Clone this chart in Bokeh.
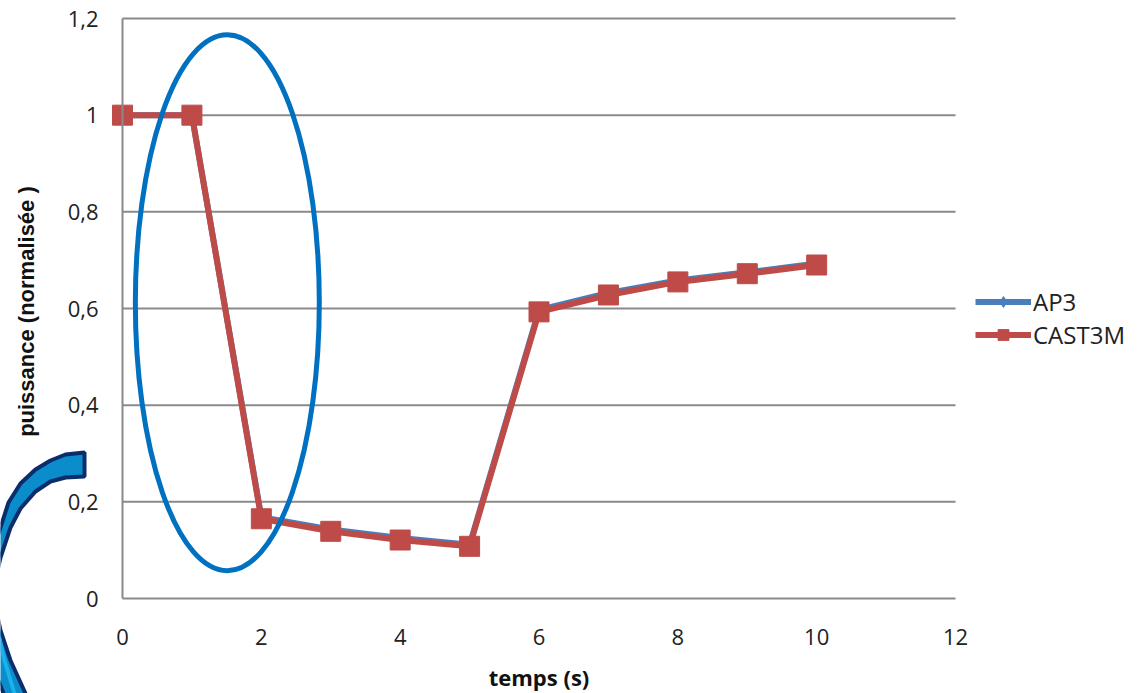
import numpy as np
from bokeh.plotting import figure
from bokeh.models import (FixedTicker, CustomJSTickFormatter, Legend, LegendItem, Range1d)
from bokeh.embed import file_html
from bokeh.resources import INLINE

# ---- data ----
temps = [0, 1, 2, 3, 4, 5, 6, 7, 8, 9, 10]
ap3 = [1.0, 1.0, 0.168, 0.143, 0.125, 0.111, 0.597, 0.632, 0.658, 0.675, 0.693]
cast3m = [1.0, 1.0, 0.165, 0.139, 0.121, 0.108, 0.593, 0.628, 0.655, 0.672, 0.690]
y_ticks = [0, 0.2, 0.4, 0.6, 0.8, 1.0, 1.2]
x_ticks = [0, 2, 4, 6, 8, 10, 12]
series_names = ["AP3", "CAST3M"]

# ---- layout geometry (canvas pixels) ----
W, H = 1140, 693
X0_PX, X_PER = 122.0, 69.42      # pixel of x=0, pixels per unit
Y0_PX, Y_PER = 598.0, 483.33     # pixel of y=0, pixels per unit

def dx(px):
    return (np.asarray(px, float) - X0_PX) / X_PER

def dy(py):
    return (Y0_PX - np.asarray(py, float)) / Y_PER

FONT = "Open Sans"
GRID = "#8a8a8a"

p = figure(width=W, height=H, output_backend="svg", toolbar_location=None,
           x_range=Range1d(float(dx(0)), float(dx(W))),
           y_range=Range1d(float(dy(H)), float(dy(0))),
           min_border=0)
p.outline_line_color = None
p.background_fill_color = "white"
p.border_fill_color = "white"
p.xgrid.visible = False
p.ygrid.visible = False

# horizontal gridlines limited to the plot area
gy = [t for t in y_ticks if t > 0]
p.segment(x0=[x_ticks[0]] * len(gy), x1=[x_ticks[-1]] * len(gy), y0=gy, y1=gy,
          line_color=GRID, line_width=2)

xa, ya = p.xaxis[0], p.yaxis[0]
xa.fixed_location = 0
ya.fixed_location = 0
xa.bounds = (x_ticks[0], x_ticks[-1])
ya.bounds = (y_ticks[0], y_ticks[-1])
for ax in (xa, ya):
    ax.axis_line_color = GRID
    ax.axis_line_width = 2
    ax.major_tick_line_color = None
    ax.minor_tick_line_color = None
    ax.major_label_text_font = FONT
    ax.major_label_text_font_size = "22px"
    ax.major_label_text_color = "#222222"
    ax.axis_label_text_font_style = "bold"
    ax.axis_label_text_color = "#111111"

xa.ticker = FixedTicker(ticks=x_ticks)
ya.ticker = FixedTicker(ticks=y_ticks)
ya.formatter = CustomJSTickFormatter(
    code="var s = tick.toFixed(1).replace('.', ','); return s.endsWith(',0') ? s.slice(0, -2) : s;")
xa.major_label_standoff = 24
ya.major_label_standoff = 18
xa.axis_label = "temps (s)"
xa.axis_label_text_font = FONT
xa.axis_label_text_font_size = "22px"
xa.axis_label_standoff = 14
ya.axis_label = "puissance  (normalisée )"
ya.axis_label_text_font = "Liberation Sans"
ya.axis_label_text_font_size = "22px"
ya.axis_label_standoff = 26

# ---- decorative crescent (lower left) ----
outer = [(84, 452), (65, 454), (50, 460), (35, 469), (20, 483), (8, 502), (0, 527),
         (-15, 570), (-20, 610), (-10, 660), (3, 693), (12, 720)]
inner = [(84, 476), (65, 477), (50, 481), (35, 491), (20, 508), (10, 527), (0, 557),
         (-8, 592), (0, 630), (10, 660), (25, 693), (35, 720)]
pts = outer + inner[::-1]
p.patch(dx([q[0] for q in pts]), dy([q[1] for q in pts]),
        fill_color="#0B8CCB", line_color="#0B2D6B", line_width=4)
stripe = [(-6, 625), (2, 660), (12, 693), (18, 720), (24, 720), (16, 693), (6, 660), (-2, 625)]
p.patch(dx([q[0] for q in stripe]), dy([q[1] for q in stripe]),
        fill_color="#19B2EC", line_color=None)

# ---- series ----
l1 = p.line(temps, ap3, line_color="#4A7EBB", line_width=6)
s1 = p.scatter(temps, ap3, marker="diamond", size=16, fill_color="#4A7EBB",
               line_color="#4A7EBB")
l2 = p.line(temps, cast3m, line_color="#BE4B48", line_width=6)
s2 = p.scatter(temps, cast3m, marker="square", size=20, fill_color="#BE4B48",
               line_color="#BE4B48")

# ---- highlight ellipse ----
p.ellipse(x=[1.51], y=[0.612], width=2.65, height=1.109, fill_alpha=0,
          line_color="#0070C0", line_width=5)

legend = Legend(items=[LegendItem(label=series_names[0], renderers=[l1, s1]),
                       LegendItem(label=series_names[1], renderers=[l2, s2])],
                location=(975, 342), orientation="vertical",
                glyph_width=56, glyph_height=27, spacing=0, padding=0, margin=0,
                label_standoff=2, label_text_font=FONT, label_text_font_size="24px",
                label_height=27,
                label_text_color="#222222", border_line_color=None,
                background_fill_alpha=0)
p.add_layout(legend, "center")

open("out.html", "w").write(file_html(p, INLINE))
